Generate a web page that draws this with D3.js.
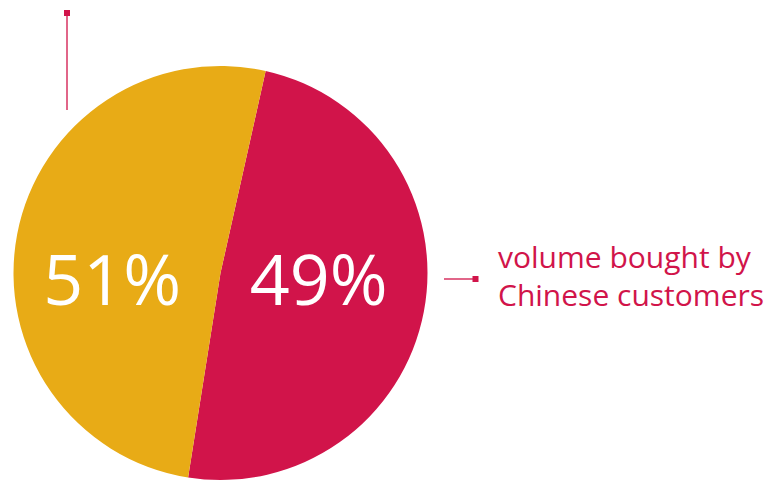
<!DOCTYPE html>
<html>
<head>
<meta charset="utf-8">
<script src="https://cdn.jsdelivr.net/npm/d3@7"></script>
<style>
	body { margin: 0; background: #fff; }
	svg { display: block; }
	text { font-family: "Open Sans", sans-serif; }
</style>
</head>
<body>
<div id="chart"></div>
<script>
// shares of volume
var categories = ['Chinese customers', 'other customers'];
var shares = [49, 51];
var labels = ['49%', '51%'];
var colors = ['#D1144A', '#E8AB16'];
var calloutText = ['volume bought by', 'Chinese customers'];

var width = 767, height = 480;
var cx = 220.5, cy = 273, radius = 207;
var startDeg = 12.6;

var svg = d3.select('#chart').append('svg')
	.attr('width', width)
	.attr('height', height);

var pie = d3.pie()
	.sort(null)
	.value(function(d) { return d; })
	.startAngle(startDeg * Math.PI / 180)
	.endAngle((startDeg + 360) * Math.PI / 180);

var arc = d3.arc().innerRadius(0).outerRadius(radius);
var labelArc = d3.arc().innerRadius(100).outerRadius(100);

var g = svg.append('g').attr('transform', 'translate(' + cx + ',' + cy + ')');
var slices = pie(shares);

g.selectAll('path.slice')
	.data(slices)
	.enter().append('path')
	.attr('class', 'slice')
	.attr('d', arc)
	.attr('fill', function(d, i) { return colors[i]; });

g.selectAll('text.pct')
	.data(slices)
	.enter().append('text')
	.attr('class', 'pct')
	.attr('x', function(d) { return labelArc.centroid(d)[0]; })
	.attr('dx', function(d, i) { return i === 1 ? -10 : 0; })
	.attr('y', 32)
	.attr('text-anchor', 'middle')
	.attr('fill', '#fff')
	.style('font-size', '70px')
	.text(function(d, i) { return labels[i]; });

/* callout for the red slice */
var callout = svg.append('g');
callout.append('line')
	.attr('x1', 444).attr('x2', 475)
	.attr('y1', 279).attr('y2', 279)
	.attr('stroke', colors[0]).attr('stroke-width', 1.3);
callout.append('rect')
	.attr('x', 472.5).attr('y', 276)
	.attr('width', 6).attr('height', 6)
	.attr('fill', colors[0]);
callout.selectAll('text')
	.data(calloutText)
	.enter().append('text')
	.attr('x', 498)
	.attr('y', function(d, i) { return 268 + i * 38; })
	.attr('fill', colors[0])
	.style('font-size', '30px')
	.text(function(d) { return d; });

/* empty callout at the top left */
var callout2 = svg.append('g');
callout2.append('line')
	.attr('x1', 67).attr('x2', 67)
	.attr('y1', 13).attr('y2', 110)
	.attr('stroke', colors[0]).attr('stroke-width', 1.3);
callout2.append('rect')
	.attr('x', 64).attr('y', 10)
	.attr('width', 6).attr('height', 6)
	.attr('fill', colors[0]);
</script>
</body>
</html>
